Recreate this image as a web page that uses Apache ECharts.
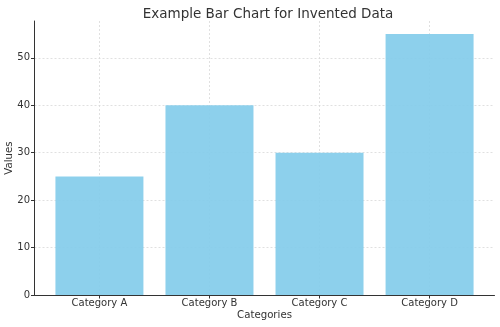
<!DOCTYPE html>
<html>
<head>
	<meta charset="UTF-8">
	<title>Example Bar Chart</title>
	<script src="https://cdn.jsdelivr.net/npm/echarts@6/dist/echarts.min.js"></script>
	<style>
		html, body { margin: 0; padding: 0; background: #fff; }
		#chart { width: 500px; height: 327px; }
	</style>
</head>
<body>
	<div id="chart"></div>
	<script type="text/javascript">
		// 数据
		var categories = ['Category A', 'Category B', 'Category C', 'Category D'];
		var values = [25, 40, 30, 55];
		var yTicks = [0, 10, 20, 30, 40, 50];

		var positions = categories.map(function (c, i) { return i; });
		var barData = values.map(function (v, i) { return [positions[i], v]; });

		var font = 'DejaVu Sans';
		var myChart = echarts.init(document.getElementById('chart'));

		var option = {
			animation: false,
			title: {
				text: 'Example Bar Chart for Invented Data',
				left: 263,
				textAlign: 'center',
				top: 2,
				textStyle: { fontFamily: font, fontSize: 13.5, fontWeight: 'normal', color: '#333' }
			},
			grid: { left: 34.5, right: 5.5, top: 21, bottom: 32, containLabel: false, outerBoundsMode: 'none' },
			xAxis: {
				type: 'value',
				min: -0.59,
				max: 3.59,
				name: 'Categories',
				nameLocation: 'middle',
				nameGap: 15,
				nameMoveOverlap: false,
				nameTextStyle: { fontFamily: font, fontSize: 10.2, color: '#333' },
				axisLine: { show: true, onZero: false, lineStyle: { color: '#333', width: 1 } },
				axisTick: { show: true, length: 3.5, customValues: positions, lineStyle: { color: '#333' } },
				axisLabel: {
					customValues: positions,
					fontFamily: font, fontSize: 10, color: '#333', margin: 3,
					formatter: function (v) { return categories[Math.round(v)]; }
				},
				splitLine: { show: true, lineStyle: { color: '#d8d8d8', type: [2, 2], width: 0.8 } }
			},
			yAxis: {
				type: 'value',
				min: 0,
				max: 57.75,
				interval: 10,
				name: 'Values',
				nameLocation: 'middle',
				nameGap: 20,
				nameMoveOverlap: false,
				nameTextStyle: { fontFamily: font, fontSize: 10.2, color: '#333' },
				axisLine: { show: true, onZero: false, lineStyle: { color: '#333', width: 1 } },
				axisTick: { show: true, length: 3.5, customValues: yTicks, lineStyle: { color: '#333' } },
				axisLabel: { customValues: yTicks, fontFamily: font, fontSize: 10, color: '#333', margin: 4.5 },
				splitLine: { show: true, lineStyle: { color: '#d8d8d8', type: [2, 2], width: 0.8 } }
			},
			series: [{
				type: 'bar',
				data: barData,
				barWidth: 88,
				itemStyle: { color: '#87ceeb', opacity: 0.95 }
			}]
		};

		myChart.setOption(option);
	</script>
</body>
</html>
